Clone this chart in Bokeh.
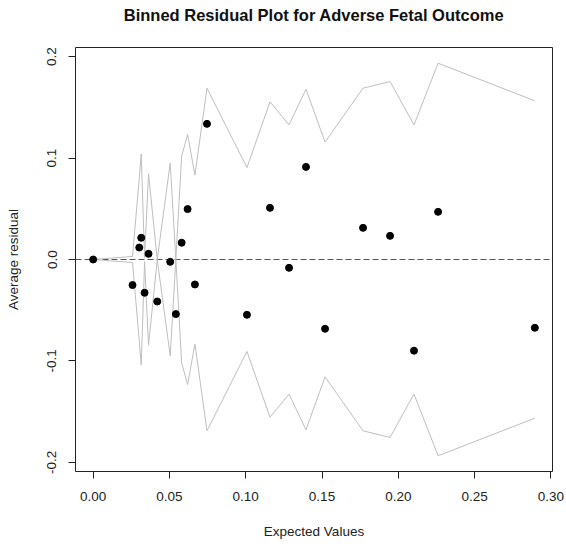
from bokeh.plotting import figure
from bokeh.models import Range1d, FixedTicker, PrintfTickFormatter, Span, ColumnDataSource, Title
from bokeh.embed import file_html
from bokeh.resources import INLINE

# ---- data ----
expected_values = [0.0, 0.0258, 0.0302, 0.0315, 0.0337, 0.0363, 0.0420, 0.0505,
                   0.0542, 0.0580, 0.0619, 0.0667, 0.0746, 0.1008, 0.1159, 0.1284,
                   0.1395, 0.1520, 0.1769, 0.1946, 0.2103, 0.2261, 0.2895]
average_residual = [0.0, -0.0252, 0.0118, 0.0214, -0.0328, 0.0056, -0.0414, -0.0023,
                    -0.0538, 0.0165, 0.0497, -0.0246, 0.1337, -0.0545, 0.0509, -0.0082,
                    0.0913, -0.0683, 0.0312, 0.0233, -0.0899, 0.0470, -0.0673]
two_se = [0.0, 0.003, 0.080, 0.1040, 0.002, 0.0845, 0.0, 0.0950,
          0.0, 0.1020, 0.1232, 0.0832, 0.1689, 0.0906, 0.1554, 0.1327,
          0.1679, 0.1157, 0.1689, 0.1754, 0.1327, 0.1935, 0.1564]
x_ticks = [0.0, 0.05, 0.10, 0.15, 0.20, 0.25, 0.30]
y_ticks = [-0.2, -0.1, 0.0, 0.1, 0.2]
title_text = "Binned Residual Plot for Adverse Fetal Outcome"
x_label = "Expected Values"
y_label = "Average residual"

neg_two_se = [-v for v in two_se]

# R-style 4% range extension
xmin, xmax = min(expected_values), max(expected_values)
xpad = 0.04 * (xmax - xmin)
yall = two_se + neg_two_se + average_residual
ymin, ymax = min(yall), max(yall)
ypad = 0.04 * (ymax - ymin)
x0, x1 = xmin - xpad, xmax + xpad
y0, y1 = ymin - ypad, ymax + ypad

FONT = "Liberation Sans"

p = figure(width=566, height=544, output_backend="svg", toolbar_location=None,
           x_range=Range1d(x0, x1), y_range=Range1d(y0, y1),
           min_border_left=75, min_border_right=14,
           min_border_top=47, min_border_bottom=73)

p.background_fill_color = "white"
p.border_fill_color = "white"
p.grid.visible = False
p.outline_line_color = "#222222"
p.outline_line_width = 1
p.outline_line_alpha = 1.0

for ax in (p.xaxis[0], p.yaxis[0]):
    ax.axis_line_color = None
    ax.major_tick_in = 0
    ax.major_tick_out = 7
    ax.major_tick_line_color = "#222222"
    ax.minor_tick_line_color = None
    ax.major_label_text_font = FONT
    ax.major_label_text_font_size = "13.5px"
    ax.major_label_text_color = "#222222"
    ax.axis_label_text_font = FONT
    ax.axis_label_text_font_size = "13.5px"
    ax.axis_label_text_font_style = "normal"
    ax.axis_label_text_color = "#222222"

p.xaxis.ticker = FixedTicker(ticks=x_ticks)
p.xaxis.formatter = PrintfTickFormatter(format="%.2f")
p.xaxis.axis_label = x_label
p.xaxis.major_label_standoff = 13
p.xaxis.axis_label_standoff = 20

p.yaxis.ticker = FixedTicker(ticks=y_ticks)
p.yaxis.formatter = PrintfTickFormatter(format="%.1f")
p.yaxis.axis_label = y_label
p.yaxis.major_label_orientation = "vertical"
p.yaxis.major_label_standoff = 12
p.yaxis.axis_label_standoff = 24

# spacer next to the frame, then the real title above it
spacer = Title(text=" ", text_font_size="10px", standoff=11)
main_title = Title(text=title_text, align="center", text_font=FONT,
                   text_font_size="16.5px", text_font_style="bold",
                   text_color="#111111", standoff=0)
p.add_layout(spacer, "above")
p.add_layout(main_title, "above")

src = ColumnDataSource(dict(x=expected_values, y=average_residual,
                            up=two_se, lo=neg_two_se))

zero_line = Span(location=0, dimension="width", line_color="#555555",
                 line_width=1, line_dash="6 3")
zero_line.level = "underlay"
p.add_layout(zero_line)
p.line("x", "up", source=src, line_color="#bebebe", line_width=1)
p.line("x", "lo", source=src, line_color="#bebebe", line_width=1)
p.scatter("x", "y", source=src, size=7, color="black")

open("out.html", "w").write(file_html(p, INLINE))
